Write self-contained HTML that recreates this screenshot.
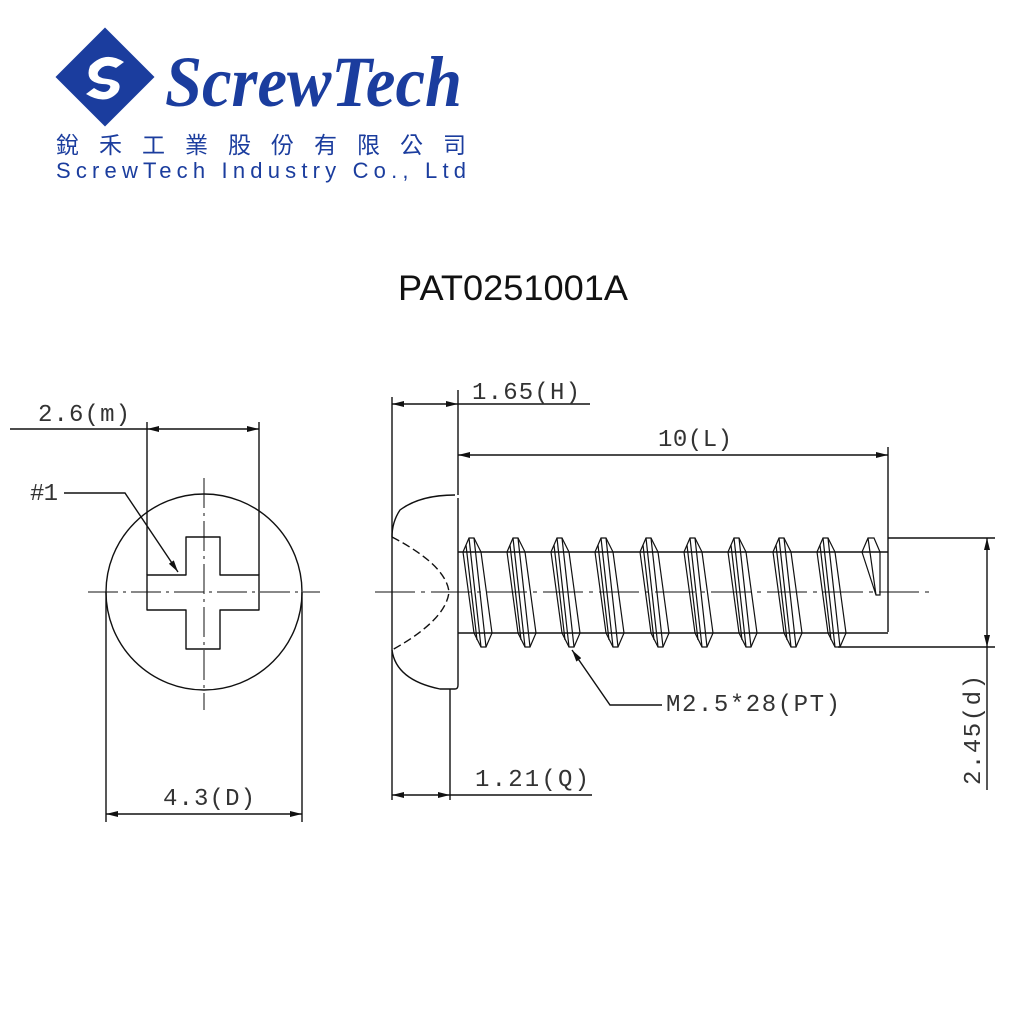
<!DOCTYPE html>
<html><head><meta charset="utf-8"><style>
body{margin:0;background:#fff;width:1024px;height:1024px;overflow:hidden}
svg{display:block}
.m{font-family:"Liberation Mono",monospace;font-size:24px;fill:#333}
</style></head><body>
<svg width="1024" height="1024" viewBox="0 0 1024 1024" xmlns="http://www.w3.org/2000/svg">
<defs>
<marker id="a" viewBox="0 0 12 6" refX="12" refY="3" markerWidth="12" markerHeight="6" markerUnits="userSpaceOnUse" orient="auto-start-reverse"><path d="M0,0L12,3L0,6z" fill="#111"/></marker>
</defs>
<g transform="translate(105,77) rotate(45)">
<rect x="-35" y="-35" width="70" height="70" fill="#1b3d9e"/>
</g>
<path d="M90,66 Q105,50 124,62 L116,68 Q104,62 98,72 Q96,78 108,79 Q124,81 118,92 Q106,106 86,94 L94,88 Q106,96 110,88 Q112,84 102,84 Q84,82 90,66z" fill="#fff"/>
<text x="165" y="106" font-family="Liberation Serif,serif" font-weight="bold" font-style="italic" font-size="72" fill="#1b3d9e" textLength="297" lengthAdjust="spacingAndGlyphs">ScrewTech</text>
<text x="56" y="153" font-family="Liberation Sans,Noto Sans CJK TC,sans-serif" font-size="23" fill="#1b3d9e" textLength="410" lengthAdjust="spacing">銳禾工業股份有限公司</text>
<text x="56" y="178" font-family="Liberation Sans,sans-serif" font-size="22" fill="#1b3d9e" textLength="410" lengthAdjust="spacing">ScrewTech Industry Co., Ltd</text>
<text x="513" y="300" text-anchor="middle" font-family="Liberation Sans,sans-serif" font-size="35" fill="#111" textLength="230" lengthAdjust="spacingAndGlyphs">PAT0251001A</text>

<g stroke="#111" stroke-width="1.4" fill="none">
<circle cx="204" cy="592" r="98"/>
<path d="M186,537H220V575H259V610H220V649H186V610H147V575H186Z" stroke-linejoin="round"/>
<path d="M88,592H320" stroke-dasharray="30,5,3,5" stroke-width="1"/>
<path d="M204,478V710" stroke-dasharray="30,5,3,5" stroke-width="1"/>
<path d="M147,422V575M259,422V575"/>
<path d="M10,429H147"/>
<path d="M147,429H259" marker-start="url(#a)" marker-end="url(#a)"/>
<path d="M106,592V822M302,592V822"/>
<path d="M106,814H302" marker-start="url(#a)" marker-end="url(#a)"/>
<path d="M64,493H125L178,572" marker-end="url(#a)"/>
<path d="M392,397V800M458,390V495M450,689V800"/>
<path d="M392,404H458" marker-start="url(#a)" marker-end="url(#a)"/>
<path d="M458,404H590"/>
<path d="M458,455H888" marker-start="url(#a)" marker-end="url(#a)"/>
<path d="M888,447V632"/>
<path d="M392,795H450" marker-start="url(#a)" marker-end="url(#a)"/>
<path d="M450,795H592"/>
<path d="M455,495Q420,495 400,510Q392,522 392,537M392,650Q396,680 440,689H455Q458,689 458,685V498"/>
<path d="M392,537Q446,565 449,592Q446,620 392,650" stroke-dasharray="8,4"/>
<path d="M375,592H930" stroke-dasharray="40,6,4,6" stroke-width="1"/>
<path d="M458,552H888M458,633H888"/>
<path d="M888,538H995M838,647H995"/>
<path d="M987,538V647" marker-start="url(#a)" marker-end="url(#a)"/>
<path d="M987,647V790"/>
<path d="M572,650L610,705H662" marker-start="url(#a)"/>
</g>
<g stroke="#111" stroke-width="1.2" fill="none" id="thr">
<path d="M463,552L469,538L474,538L481,552L492,633L486,647L481,647L474,633Z"/>
<path d="M469,538L481,647M474,538L486,647M466,545L477,640"/>
</g>
<use href="#thr" x="44"/><use href="#thr" x="88"/><use href="#thr" x="132"/><use href="#thr" x="177"/>
<use href="#thr" x="221"/><use href="#thr" x="265"/><use href="#thr" x="310"/><use href="#thr" x="354"/>
<path d="M862,552L868,538L874,538L880,552L880,595L876,595Z M868,538L876,595" stroke="#111" stroke-width="1.2" fill="none"/>

<text class="m" x="38" y="421" textLength="92">2.6(m)</text>
<text class="m" x="30" y="500" textLength="28">#1</text>
<text class="m" x="163" y="805" textLength="92">4.3(D)</text>
<text class="m" x="472" y="399" textLength="108">1.65(H)</text>
<text class="m" x="658" y="446" textLength="74">10(L)</text>
<text class="m" x="666" y="711" textLength="174">M2.5*28(PT)</text>
<text class="m" x="475" y="786" textLength="114">1.21(Q)</text>
<text class="m" transform="translate(980,785) rotate(-90)" textLength="110">2.45(d)</text>
</svg>
</body></html>
